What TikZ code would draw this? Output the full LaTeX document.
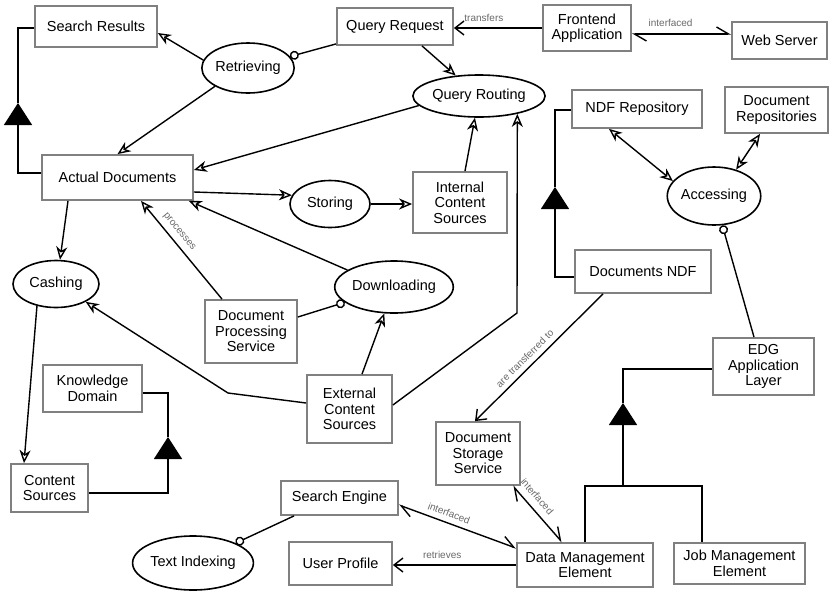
\documentclass[tikz,border=0pt]{standalone}
\usepackage{fontspec}
\setmainfont{Liberation Sans}
\usetikzlibrary{arrows.meta,shapes.geometric,calc}
\definecolor{boxgray}{RGB}{128,128,128}
\definecolor{lblgray}{RGB}{105,105,105}
\begin{document}
\begin{tikzpicture}[x=1pt,y=-1pt,
  box/.style={draw=boxgray, line width=1.8pt, fill=white, align=center, inner sep=0pt, font=\fontsize{14.5}{15.5}\selectfont},
  oval/.style={ellipse, draw=black, line width=1.6pt, fill=white, inner sep=0pt, font=\fontsize{14.5}{15.5}\selectfont},
  conn/.style={line width=1.4pt, draw=black},
  opn/.style={-{Stealth[open, length=13pt, width=11pt, inset=4pt]}},
  bopn/.style={{Stealth[open, length=13pt, width=11pt, inset=4pt]}-{Stealth[open, length=13pt, width=11pt, inset=4pt]}},
  stick/.style={-{Straight Barb[length=9pt, width=14pt]}},
  intf/.style={{Straight Barb[harpoon, length=12pt, width=14pt]}-{Straight Barb[harpoon, length=12pt, width=14pt]}},
  circ/.style={-{Circle[open, length=9pt, width=9pt, fill=white]}},
  gen/.style={-{Triangle[length=22pt, width=28pt]}},
  lbl/.style={font=\fontsize{10}{11}\selectfont, text=lblgray, inner sep=1pt}
]
\useasboundingbox (0,0) rectangle (830,590);

% rectangles
\node[box, minimum width=122pt, minimum height=41pt] (sr) at (96,26.5) {Search Results};
\node[box, minimum width=151pt, minimum height=45pt] (ad) at (117.5,177.5) {Actual Documents};
\node[box, minimum width=116pt, minimum height=37pt] (qr) at (395,26.5) {Query Request};
\node[box, minimum width=88pt, minimum height=46pt] (fa) at (587,28) {Frontend\\Application};
\node[box, minimum width=95pt, minimum height=37pt] (ws) at (779.5,40.5) {Web Server};
\node[box, minimum width=130pt, minimum height=38pt] (ndfr) at (637,109) {NDF Repository};
\node[box, minimum width=103pt, minimum height=46pt] (drep) at (776.5,110) {Document\\Repositories};
\node[box, minimum width=94pt, minimum height=61pt] (ics) at (460,202.5) {Internal\\Content\\Sources};
\node[box, minimum width=136pt, minimum height=43pt] (dndf) at (643,271.5) {Documents NDF};
\node[box, minimum width=92pt, minimum height=63pt] (dps) at (251,331.5) {Document\\Processing\\Service};
\node[box, minimum width=85pt, minimum height=68pt] (ecs) at (349.5,409) {External\\Content\\Sources};
\node[box, minimum width=101pt, minimum height=57pt] (edg) at (763.5,366.5) {EDG\\Application\\Layer};
\node[box, minimum width=99pt, minimum height=47pt] (kd) at (92.5,388.5) {Knowledge\\Domain};
\node[box, minimum width=77pt, minimum height=48pt] (cs) at (49.5,488) {Content\\Sources};
\node[box, minimum width=84pt, minimum height=63pt] (dss) at (478,453.5) {Document\\Storage\\Service};
\node[box, minimum width=117pt, minimum height=34pt] (se) at (339.5,498) {Search Engine};
\node[box, minimum width=103pt, minimum height=43pt] (up) at (340.5,563.5) {User Profile};
\node[box, minimum width=136pt, minimum height=44pt] (dme) at (585,565) {Data Management\\Element};
\node[box, minimum width=131pt, minimum height=41pt] (jme) at (739.5,563.5) {Job Management\\Element};

% ellipses
\node[oval, minimum width=90pt, minimum height=50pt] (ret) at (248,68) {Retrieving};
\node[oval, minimum width=116pt, minimum height=42pt] (qrout) at (479,96) {Query Routing};
\node[oval, minimum width=93pt, minimum height=58pt] (acc) at (714,196) {Accessing};
\node[oval, minimum width=80pt, minimum height=47pt] (sto) at (330,204) {Storing};
\node[oval, minimum width=115pt, minimum height=52pt] (dl) at (394,287) {Downloading};
\node[oval, minimum width=86pt, minimum height=47pt] (cash) at (56,284) {Cashing};
\node[oval, minimum width=119pt, minimum height=54pt] (ti) at (193,563) {Text Indexing};

% helper coordinates
\coordinate (t1) at (168,437);
\coordinate (t2) at (18,103);
\coordinate (t3) at (555,187);
\coordinate (t4) at (623,403);
\coordinate (g4) at (623,486);
\coordinate (c1) at (517,313);
\coordinate (c2) at (228,393);

% connectors
\draw[conn,opn] (ret.170) -- ([yshift=-6.5pt]sr.east);
\draw[conn,opn] (ret.-151) -- (ad.north);
\draw[conn,circ] ([yshift=2pt]qr.south west) -- (ret);
\draw[conn,opn] ([xshift=27pt]qr.south) -- (qrout);
\draw[conn,stick] (fa.west) -- (fa.west -| qr.east)
  node[lbl, pos=0.66, above=5pt] {transfers};
\draw[conn,intf] ([yshift=-6pt]fa.east) -- ([yshift=6.5pt]ws.west)
  node[lbl, pos=0.39, above=6pt] {interfaced};
\draw[conn,opn] (qrout.189) -- ([yshift=7.5pt]ad.east);
\draw[conn,opn] ([yshift=-14.5pt]ad.east) -- (sto.167);
\draw[conn,opn] (sto.east) -- (sto.east -| ics.west);
\draw[conn,opn] ([xshift=5pt]ics.north) -- (qrout);
\draw[conn,opn] ([yshift=4pt]ecs.east) -- (c1) -- (qrout.-25);
\draw[conn,opn] ([xshift=-49.5pt]ad.south) -- ([xshift=4pt]cash.north);
\draw[conn,opn] ([xshift=-29pt]dps.north) -- ([xshift=23.5pt]ad.south)
  node[lbl, pos=0.62, sloped, above=4pt] {processes};
\draw[conn,opn] (dl.160) -- ([xshift=-5pt]ad.south east);
\draw[conn,circ] ([yshift=14.5pt]dps.east) -- (dl);
\draw[conn,opn] ([xshift=12.5pt]ecs.north) -- (dl);
\draw[conn,opn] ([yshift=6pt]ecs.west) -- (c2) -- (cash.-31);
\draw[conn,opn] (cash.-131) -- ([xshift=-25.5pt]cs.north);
\draw[conn,gen] ([yshift=-5pt]cs.east) -| (t1);
\draw[conn] (t1) |- ([yshift=-4.5pt]kd.east);
\draw[conn,gen] ([yshift=4.5pt]ad.west) -| (t2);
\draw[conn] (t2) |- ([yshift=-1.5pt]sr.west);
\draw[conn,gen] ([yshift=-5.5pt]dndf.west) -| (t3);
\draw[conn] (t3) |- ([yshift=-1pt]ndfr.west);
\draw[conn,bopn] ([xshift=-28pt]ndfr.south) -- (acc.160);
\draw[conn,bopn] ([xshift=-16.5pt]drep.south) -- (acc.50);
\draw[conn,circ] ([xshift=-9.5pt]edg.north) -- (acc);
\draw[conn,stick] ([xshift=-40pt]dndf.south) -- ([xshift=-3pt]dss.north)
  node[lbl, pos=0.56, sloped, above=4pt] {are transferred to};
\draw[conn,intf] ([xshift=-23pt]dme.north) -- ([xshift=-8pt]dss.south east)
  node[lbl, pos=0.68, sloped, above=6pt] {interfaced};
\draw[conn,intf] ([yshift=-6pt]dme.north west) -- ([yshift=-7pt]se.east)
  node[lbl, pos=0.6, sloped, above=4pt] {interfaced};
\draw[conn,stick] (dme.west) -- (dme.west -| up.east)
  node[lbl, pos=0.6, above=5pt] {retrieves};
\draw[conn,circ] ([xshift=-45.5pt]se.south) -- (ti);
\draw[conn] (dme.north) |- (g4) -| ([xshift=-37.5pt]jme.north);
\draw[conn,gen] (g4) -- (t4);
\draw[conn] (t4) |- ([yshift=-2.5pt]edg.west);
\end{tikzpicture}
\end{document}
